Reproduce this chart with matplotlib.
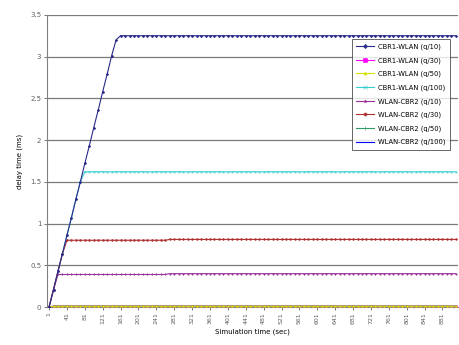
import matplotlib
matplotlib.use("Agg")
import matplotlib.pyplot as plt

# ---- data ----
times = list(range(1, 912, 10))          # simulation time categories (sec)
tick_every = 4

series_names = [
    "CBR1-WLAN (q/10)", "CBR1-WLAN (q/30)", "CBR1-WLAN (q/50)", "CBR1-WLAN (q/100)",
    "WLAN-CBR2 (q/10)", "WLAN-CBR2 (q/30)", "WLAN-CBR2 (q/50)", "WLAN-CBR2 (q/100)",
]

cbr1_q10 = [0.0, 0.21, 0.43, 0.64, 0.86, 1.07, 1.29, 1.50, 1.72, 1.93, 2.15, 2.36,
            2.58, 2.79, 3.01, 3.20] + [3.25] * 76
cbr1_q30 = [0.0, 0.01] + [0.01] * 90
cbr1_q50 = [0.0, 0.01] + [0.01] * 90
cbr1_q100 = [0.0, 0.21, 0.43, 0.64, 0.86, 1.07, 1.29, 1.50, 1.62] + [1.62] * 83
wlan_q10 = [0.0, 0.21, 0.39] + [0.39] * 24 + [0.40] * 65
wlan_q30 = [0.0, 0.21, 0.43, 0.64, 0.80] + [0.80] * 22 + [0.81] * 65
wlan_q50 = [0.0, 0.01] + [0.01] * 90
wlan_q100 = [0.0, 0.01] + [0.01] * 90

all_series = [cbr1_q10, cbr1_q30, cbr1_q50, cbr1_q100,
              wlan_q10, wlan_q30, wlan_q50, wlan_q100]

colors = ["#2a2a8a", "#FF00FF", "#D8E000", "#33CCCC",
          "#993399", "#B03030", "#339966", "#0000FF"]
markers = ["D", "s", "^", "x", "*", "o", "+", None]

yticks = [0, 0.5, 1, 1.5, 2, 2.5, 3, 3.5]
ytick_labels = ["0", "0.5", "1", "1.5", "2", "2.5", "3", "3.5"]

# ---- plot ----
fig = plt.figure(figsize=(4.59, 3.45), dpi=100)
ax = fig.add_axes([0.102, 0.110, 0.896, 0.847])

x = list(range(len(times)))
order = [7, 1, 6, 2, 3, 4, 5, 0]
for z, i in enumerate(order):
    ax.plot(x, all_series[i], color=colors[i], marker=markers[i], markersize=1.3,
            markeredgewidth=0.4, linewidth=0.8, label=series_names[i], zorder=3 + z)

ax.set_xlim(-0.5, len(times) - 0.5)
ax.set_ylim(0, 3.5)
ax.set_yticks(yticks)
ax.set_yticklabels(ytick_labels, fontsize=5)
ax.set_xticks(x[::tick_every])
ax.set_xticklabels([str(t) for t in times[::tick_every]], rotation=90, fontsize=4.5)
ax.yaxis.grid(True, color="#7a7a7a", linewidth=0.9)
ax.set_axisbelow(True)
ax.tick_params(axis="both", length=2, width=0.6, colors="#606060", pad=2)
for s in ["top", "right"]:
    ax.spines[s].set_visible(False)
for s in ["left", "bottom"]:
    ax.spines[s].set_color("#808080")
    ax.spines[s].set_linewidth(0.8)

ax.set_xlabel("Simulation time (sec)", fontsize=5, labelpad=3)
ax.set_ylabel("delay time (ms)", fontsize=5, labelpad=5)

handles, labels = ax.get_legend_handles_labels()
lookup = dict(zip(labels, handles))
leg = ax.legend([lookup[n] for n in series_names], series_names,
                loc="upper left", bbox_to_anchor=(0.733, 0.93), fontsize=4.9,
                frameon=True, fancybox=False, edgecolor="#404040", borderpad=0.7,
                labelspacing=1.05, handlelength=2.6, handletextpad=0.6)
leg.get_frame().set_linewidth(0.7)
for h in leg.legend_handles:
    h.set_markersize(2.2)

fig.savefig("out.png", dpi=100)
